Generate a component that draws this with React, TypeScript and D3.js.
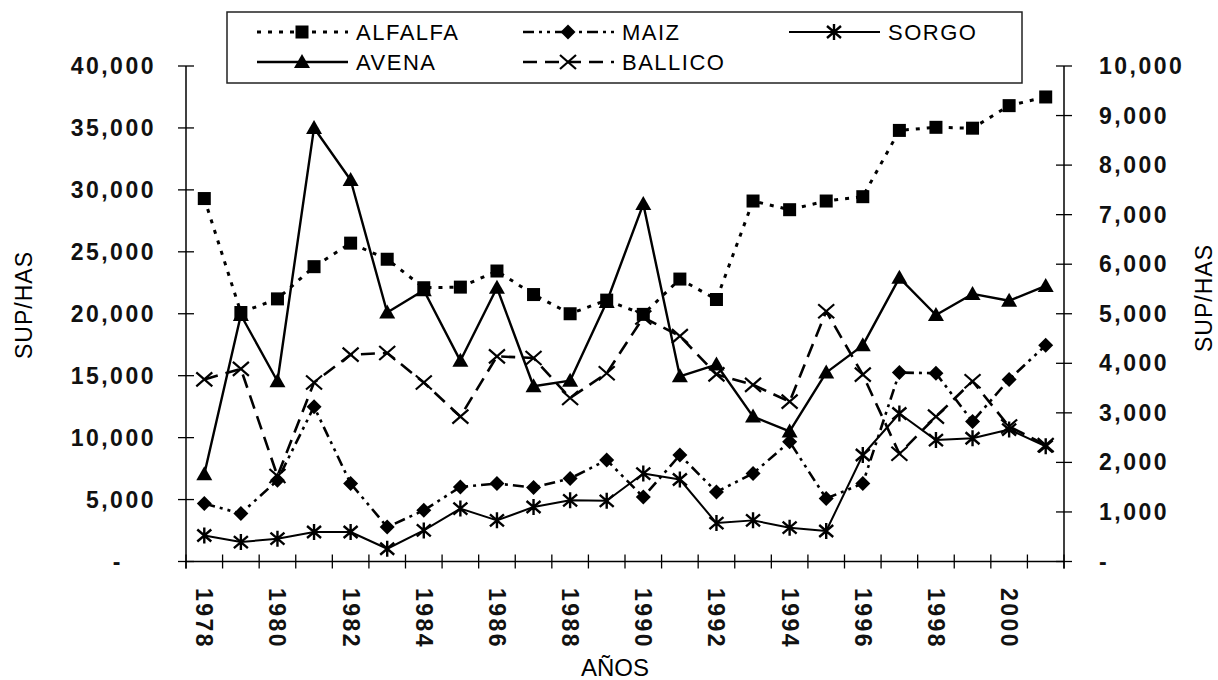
import React from 'react';
import * as d3 from 'd3';

const years = [1978, 1979, 1980, 1981, 1982, 1983, 1984, 1985, 1986, 1987, 1988, 1989, 1990, 1991, 1992, 1993, 1994, 1995, 1996, 1997, 1998, 1999, 2000, 2001];
const yearLabels = [1978, 1980, 1982, 1984, 1986, 1988, 1990, 1992, 1994, 1996, 1998, 2000];

const alfalfa = [29300, 20100, 21200, 23800, 25700, 24400, 22100, 22150, 23450, 21550, 20000, 21100, 19950, 22800, 21150, 29100, 28400, 29100, 29450, 34800, 35050, 34980, 36800, 37500];
const avena = [7050, 19900, 14550, 35000, 30800, 20100, 21900, 16200, 22100, 14150, 14600, 20950, 28850, 14950, 15900, 11700, 10500, 15250, 17450, 22900, 19900, 21600, 21050, 22250];
const maiz = [4680, 3870, 6560, 12500, 6300, 2780, 4130, 6020, 6300, 5970, 6700, 8190, 5200, 8590, 5620, 7110, 9670, 5080, 6300, 15250, 15200, 11300, 14700, 17450];
const ballico = [14700, 15550, 6900, 14450, 16700, 16830, 14450, 11700, 16560, 16430, 13200, 15200, 19700, 18200, 15100, 14260, 12900, 20200, 15080, 8700, 11700, 14550, 10900, 9400];
const sorgo = [2100, 1570, 1840, 2380, 2380, 1030, 2510, 4270, 3320, 4400, 4940, 4900, 7100, 6620, 3100, 3320, 2730, 2460, 8600, 11950, 9800, 9950, 10650, 9300];

const leftTicks = [0, 5000, 10000, 15000, 20000, 25000, 30000, 35000, 40000];
const rightTicks = [0, 1000, 2000, 3000, 4000, 5000, 6000, 7000, 8000, 9000, 10000];

type Mk = 'square' | 'triangle' | 'diamond' | 'asterisk' | 'x';

const series: { name: string; values: number[]; dash: string; width: number; marker: Mk }[] = [
  { name: 'SORGO', values: sorgo, dash: '', width: 2, marker: 'asterisk' },
  { name: 'MAIZ', values: maiz, dash: '11,5,3,5,3,5', width: 2.6, marker: 'diamond' },
  { name: 'BALLICO', values: ballico, dash: '14,8', width: 2.6, marker: 'x' },
  { name: 'AVENA', values: avena, dash: '', width: 2.4, marker: 'triangle' },
  { name: 'ALFALFA', values: alfalfa, dash: '4,7', width: 3, marker: 'square' },
];

function Marker({ type, x, y }: { type: Mk; x: number; y: number }) {
  if (type === 'square') return <rect x={x - 6.5} y={y - 6.5} width={13} height={13} fill="#000" />;
  if (type === 'triangle') return <path d={`M${x},${y - 8} L${x + 8},${y + 6} L${x - 8},${y + 6} Z`} fill="#000" />;
  if (type === 'diamond') return <path d={`M${x},${y - 7.5} L${x + 7.5},${y} L${x},${y + 7.5} L${x - 7.5},${y} Z`} fill="#000" />;
  if (type === 'asterisk')
    return (
      <path
        d={`M${x},${y - 8} L${x},${y + 8} M${x - 7},${y - 6} L${x + 7},${y + 6} M${x - 7},${y + 6} L${x + 7},${y - 6}`}
        stroke="#000"
        strokeWidth={2.4}
        fill="none"
      />
    );
  return (
    <path
      d={`M${x - 8},${y - 7} L${x + 8},${y + 7} M${x - 8},${y + 7} L${x + 8},${y - 7}`}
      stroke="#000"
      strokeWidth={2.2}
      fill="none"
    />
  );
}

export default function App() {
  const W = 1218;
  const H = 680;
  const left = 186;
  const right = 1064;
  const x = d3.scaleBand<number>().domain(years).range([left, right]).padding(0);
  const y = d3.scaleLinear().domain([0, 40000]).range([561.5, 66]);
  const yR = d3.scaleLinear().domain([0, 10000]).range([561.5, 66]);
  const cx = (yr: number) => (x(yr) as number) + x.bandwidth() / 2;
  const fmt = d3.format(',');
  const lab = (v: number) => (v === 0 ? '-' : fmt(v));
  const line = d3
    .line<number>()
    .x((_, i) => cx(years[i]))
    .y((d) => y(d));

  const font = '"Liberation Sans", Arial, sans-serif';
  const boundaries = [...years.map((yr) => x(yr) as number), right];

  const legend: { name: string; lx: number; ly: number; dash: string; width: number; marker: Mk }[] = [
    { name: 'ALFALFA', lx: 257, ly: 32, dash: '4,7', width: 3, marker: 'square' },
    { name: 'MAIZ', lx: 523, ly: 32, dash: '11,5,3,5,3,5', width: 2.6, marker: 'diamond' },
    { name: 'SORGO', lx: 789, ly: 32, dash: '', width: 2, marker: 'asterisk' },
    { name: 'AVENA', lx: 257, ly: 62, dash: '', width: 2.4, marker: 'triangle' },
    { name: 'BALLICO', lx: 523, ly: 62, dash: '14,8', width: 2.6, marker: 'x' },
  ];

  return (
    <svg width={W} height={H} style={{ position: 'absolute', left: 0, top: 0, background: '#fff' }} fontFamily={font}>
      <rect x={0} y={0} width={W} height={H} fill="#fff" />
      {/* legend */}
      <rect x={227} y={12} width={795} height={71} fill="none" stroke="#222" strokeWidth={1.5} />
      {legend.map((l) => (
        <g key={l.name}>
          <line x1={l.lx} x2={l.lx + 91} y1={l.ly} y2={l.ly} stroke="#000" strokeWidth={l.width} strokeDasharray={l.dash || undefined} />
          <Marker type={l.marker} x={l.lx + 45} y={l.ly} />
          <text x={l.lx + 99} y={l.ly} dominantBaseline="central" fontSize={22} letterSpacing={1.5} fill="#000">
            {l.name}
          </text>
        </g>
      ))}

      {/* axes */}
      <line x1={left} x2={left} y1={y(40000)} y2={y(0) + 7} stroke="#000" strokeWidth={1.5} />
      <line x1={right} x2={right} y1={yR(10000)} y2={yR(0) + 7} stroke="#000" strokeWidth={1.5} />
      <line x1={left} x2={right} y1={y(0)} y2={y(0)} stroke="#000" strokeWidth={1.5} />
      {leftTicks.map((t) => (
        <g key={'l' + t}>
          <line x1={left - 8} x2={left + 8} y1={y(t)} y2={y(t)} stroke="#000" strokeWidth={1.3} />
          <text
            x={t === 0 ? 123 : 156}
            y={y(t)}
            textAnchor="end"
            dominantBaseline="central"
            fontSize={23}
            fontWeight="bold"
            letterSpacing={2.5}
            fill="#111"
          >
            {lab(t)}
          </text>
        </g>
      ))}
      {rightTicks.map((t) => (
        <g key={'r' + t}>
          <line x1={right - 8} x2={right + 8} y1={yR(t)} y2={yR(t)} stroke="#000" strokeWidth={1.3} />
          <text x={1099} y={yR(t)} textAnchor="start" dominantBaseline="central" fontSize={23} fontWeight="bold" letterSpacing={2.5} fill="#111">
            {lab(t)}
          </text>
        </g>
      ))}
      {boundaries.map((b, i) => (
        <line key={'xt' + i} x1={b} x2={b} y1={y(0) - 7} y2={y(0) + 7} stroke="#000" strokeWidth={1.3} />
      ))}
      {yearLabels.map((yr) => (
        <text
          key={'yl' + yr}
          transform={`translate(${cx(yr)},588) rotate(90)`}
          textAnchor="start"
          dominantBaseline="central"
          fontSize={23}
          fontWeight="bold"
          letterSpacing={2.5}
          fill="#111"
        >
          {yr}
        </text>
      ))}
      <text x={615} y={676} textAnchor="middle" fontSize={24} fill="#000">
        AÑOS
      </text>
      <text transform="translate(32,305) rotate(-90)" textAnchor="middle" fontSize={23} letterSpacing={1} fill="#000">
        SUP/HAS
      </text>
      <text transform="translate(1212,298) rotate(-90)" textAnchor="middle" fontSize={23} letterSpacing={1} fill="#000">
        SUP/HAS
      </text>

      {/* series */}
      {series.map((s) => (
        <path
          key={'p' + s.name}
          d={line(s.values) || ''}
          fill="none"
          stroke="#000"
          strokeWidth={s.width}
          strokeDasharray={s.dash || undefined}
          strokeLinejoin="round"
        />
      ))}
      {series.map((s) => (
        <g key={'m' + s.name}>
          {s.values.map((v, i) => (
            <Marker key={i} type={s.marker} x={cx(years[i])} y={y(v)} />
          ))}
        </g>
      ))}
    </svg>
  );
}
